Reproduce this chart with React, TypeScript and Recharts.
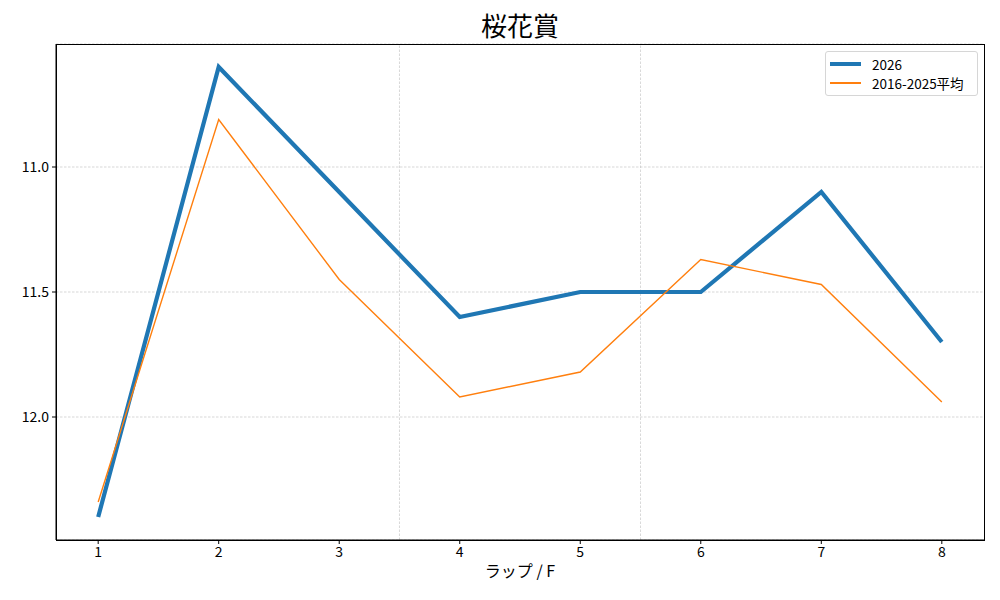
import { LineChart, Line, XAxis, YAxis, CartesianGrid, ReferenceLine } from 'recharts'

const laps = [1, 2, 3, 4, 5, 6, 7, 8]
const times2026 = [12.4, 10.6, 11.1, 11.6, 11.5, 11.5, 11.1, 11.7]
const timesAvg = [12.34, 10.81, 11.45, 11.92, 11.82, 11.37, 11.47, 11.94]
const yTicks = [11.0, 11.5, 12.0]
const sectionMarks = [3.5, 5.5]

const font = '"Noto Sans CJK JP", "DejaVu Sans", sans-serif'

export default function App() {
  const data = laps.map((lap, i) => ({ lap, y2026: times2026[i], avg: timesAvg[i] }))

  return (
    <div style={{ position: 'fixed', top: 0, left: 0, width: 1000, height: 600, background: '#fff', fontFamily: font }}>
      <div style={{ position: 'absolute', top: 6, left: 0, width: 1040, textAlign: 'center', fontSize: 26, lineHeight: '38px', color: '#000' }}>
        桜花賞
      </div>
      <LineChart width={1000} height={600} data={data} margin={{ top: 44, right: 16, bottom: 0, left: 0 }}>
        <CartesianGrid vertical={false} stroke="#bdbdbd" strokeWidth={0.6} strokeDasharray="2.5 1.5" />
        {sectionMarks.map((x) => (
          <ReferenceLine key={x} x={x} stroke="#bdbdbd" strokeWidth={0.6} strokeDasharray="2.5 1.5" />
        ))}
        <XAxis
          dataKey="lap"
          type="number"
          domain={[0.65, 8.35]}
          ticks={laps}
          allowDataOverflow
          stroke="#000"
          tickSize={4}
          tickMargin={3}
          height={60}
          tick={{ fill: '#000', fontSize: 14, fontFamily: font }}
          label={{ value: 'ラップ / F', position: 'insideTop', offset: 26, fill: '#000', fontSize: 16, fontFamily: font }}
        />
        <YAxis
          type="number"
          reversed
          domain={[10.508, 12.492]}
          ticks={yTicks}
          allowDataOverflow
          width={56}
          stroke="#000"
          tickSize={4}
          tickMargin={3}
          tickFormatter={(v: number) => v.toFixed(1)}
          tick={{ fill: '#000', fontSize: 14, fontFamily: font }}
        />
        <Line dataKey="y2026" stroke="#1f77b4" strokeWidth={4.2} dot={false} isAnimationActive={false} strokeLinejoin="miter" />
        <Line dataKey="avg" stroke="#ff7f0e" strokeWidth={1.4} dot={false} isAnimationActive={false} strokeLinejoin="miter" />
      </LineChart>
      <div style={{ position: 'absolute', left: 56, top: 44, width: 929, height: 497, border: '1px solid #000', boxSizing: 'border-box', pointerEvents: 'none' }} />
      <div
        style={{
          position: 'absolute',
          left: 825,
          top: 51,
          width: 153,
          height: 45,
          border: '1px solid #d6d6d6',
          borderRadius: 3,
          boxSizing: 'border-box',
          background: 'rgba(255,255,255,0.8)',
          fontSize: 13.5,
          color: '#000',
        }}
      >
        <div style={{ display: 'flex', alignItems: 'center', position: 'absolute', left: 4, top: 2 }}>
          <div style={{ width: 31, height: 4, background: '#1f77b4', marginRight: 11 }} />
          <span>2026</span>
        </div>
        <div style={{ display: 'flex', alignItems: 'center', position: 'absolute', left: 4, top: 21 }}>
          <div style={{ width: 31, height: 1.4, background: '#ff7f0e', marginRight: 11 }} />
          <span>2016-2025平均</span>
        </div>
      </div>
    </div>
  )
}
